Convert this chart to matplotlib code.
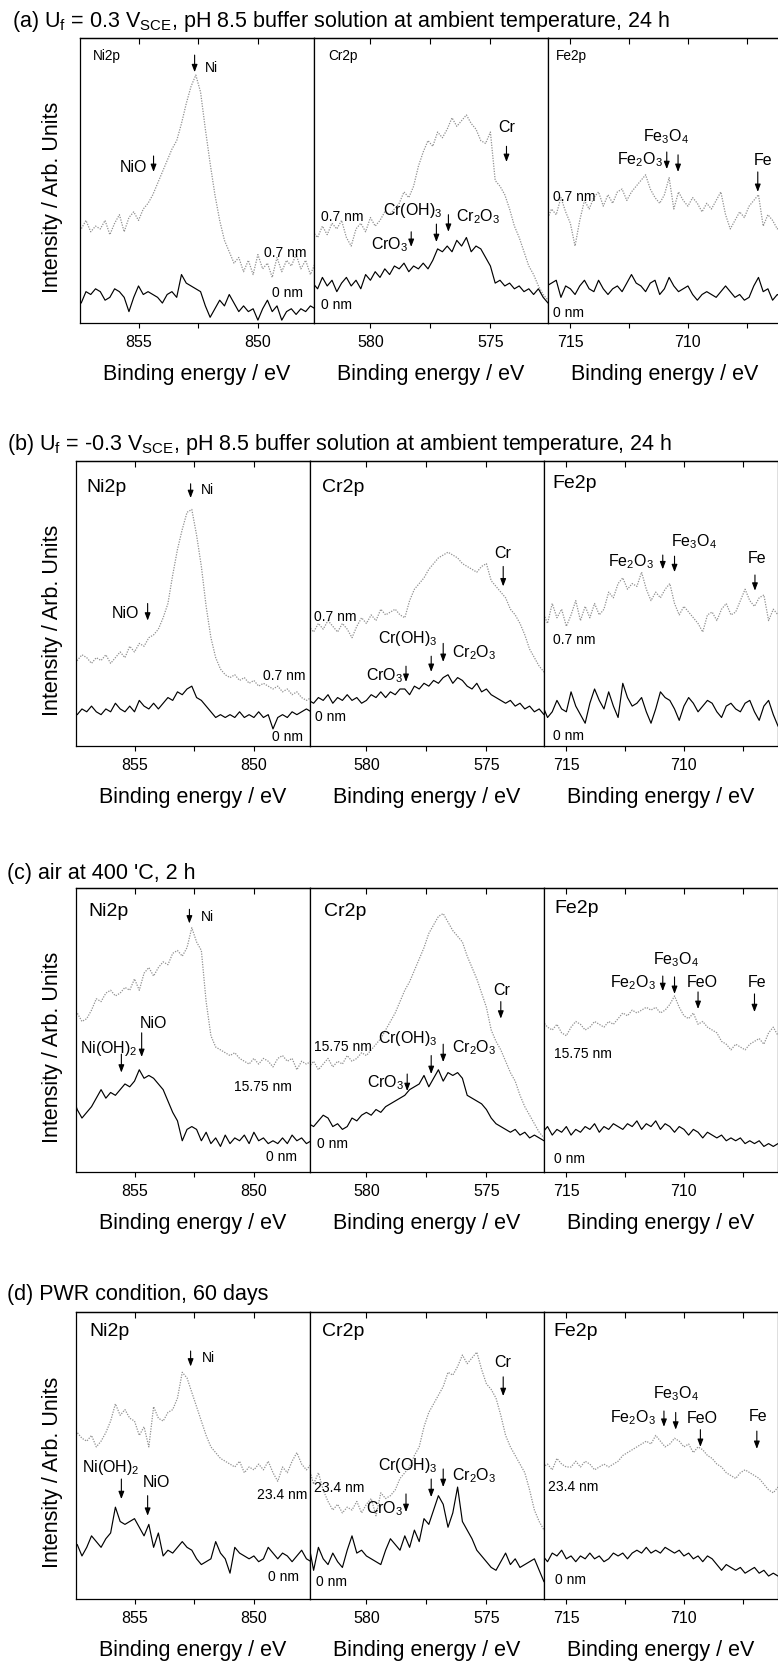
import numpy as np
import matplotlib
matplotlib.use("Agg")
import matplotlib.pyplot as plt
from matplotlib.ticker import MultipleLocator, FuncFormatter

plt.rcParams['font.family'] = ['Liberation Sans', 'DejaVu Sans']
plt.rcParams['mathtext.default'] = 'regular'

# ---------------- data (intensity in % of panel height, arbitrary units) ----------------
NI_E = np.linspace(857.6, 847.6, 51)
CR_E = np.linspace(582.4, 572.4, 51)
FE_E = np.linspace(716.0, 706.0, 51)

# (a) Uf = 0.3 V
NI_A_GRAY = [35, 33, 36, 32, 34, 33, 36, 31, 35, 38, 32, 37, 39, 36, 40, 42, 45, 49, 53, 57, 61, 64, 70, 77, 83, 87,
             81, 68, 56, 45, 36, 29, 25, 21, 23, 18, 22, 17, 24, 19, 21, 16, 23, 18, 22, 20, 24, 19, 22, 17, 21]
NI_A_BLACK = [9, 7, 11, 10, 12, 11, 8, 9, 12, 11, 9, 4, 9, 13, 10, 11, 10, 9, 7, 10, 11, 9, 17, 14, 13, 12,
              11, 6, 2, 5, 8, 6, 10, 7, 4, 6, 4, 5, 1, 5, 8, 4, 6, 1, 4, 5, 3, 5, 4, 6, 5]
CR_A_GRAY = [32, 30, 34, 31, 35, 33, 36, 30, 27, 33, 35, 32, 37, 34, 36, 39, 38, 40, 42, 46, 44, 48, 55, 60, 64, 62,
             67, 65, 68, 72, 69, 71, 73, 70, 68, 64, 63, 67, 50, 48, 45, 40, 34, 30, 25, 20, 17, 13, 10, 8, 7]
CR_A_BLACK = [14, 12, 16, 13, 15, 11, 14, 16, 13, 15, 12, 17, 15, 18, 16, 19, 17, 20, 19, 21, 18, 20, 19, 21, 19, 22,
              26, 25, 27, 25, 29, 27, 30, 25, 27, 26, 23, 20, 14, 15, 13, 14, 12, 13, 11, 12, 10, 12, 9, 7, 8]
FE_A_GRAY = [36, 40, 38, 44, 39, 35, 27, 36, 43, 40, 44, 46, 41, 45, 42, 46, 47, 43, 46, 48, 50, 52, 47, 44, 42, 45,
             51, 40, 46, 43, 41, 44, 42, 39, 42, 40, 43, 46, 38, 33, 36, 39, 37, 41, 43, 45, 34, 38, 36, 33, 35]
FE_A_BLACK = [13, 14, 15, 9, 13, 12, 10, 13, 15, 12, 11, 15, 12, 10, 12, 13, 11, 14, 17, 14, 13, 11, 14, 15, 10, 12,
              16, 13, 11, 12, 13, 10, 8, 10, 11, 10, 9, 11, 13, 11, 9, 10, 8, 9, 13, 16, 11, 12, 8, 10, 9]

# (b) Uf = -0.3 V
NI_B_GRAY = [31, 30, 32, 31, 29, 31, 30, 32, 29, 31, 33, 31, 35, 33, 36, 35, 38, 39, 41, 45, 50, 60, 69, 76, 82, 83,
             74, 63, 49, 38, 31, 27, 25, 24, 25, 23, 24, 22, 23, 21, 22, 21, 20, 21, 19, 20, 18, 19, 17, 16, 17]
NI_B_BLACK = [12, 11, 13, 12, 14, 12, 11, 13, 12, 15, 13, 12, 14, 12, 16, 14, 13, 15, 13, 15, 17, 16, 19, 18, 20, 21,
              17, 16, 14, 12, 10, 11, 10, 11, 10, 12, 10, 11, 10, 12, 10, 11, 6, 10, 11, 10, 12, 11, 12, 13, 12]
CR_B_GRAY = [42, 40, 43, 41, 44, 42, 40, 43, 41, 38, 42, 45, 43, 46, 44, 48, 46, 47, 48, 46, 45, 51, 55, 57, 59, 62,
             64, 66, 67, 68, 67, 66, 64, 63, 62, 61, 63, 64, 58, 56, 54, 52, 48, 46, 43, 39, 34, 31, 28, 26, 25]
CR_B_BLACK = [16, 15, 17, 16, 18, 15, 17, 16, 18, 16, 17, 15, 16, 18, 17, 19, 17, 19, 18, 20, 20, 18, 21, 20, 22, 21,
              23, 22, 24, 25, 22, 24, 23, 21, 20, 22, 19, 20, 18, 17, 16, 15, 16, 14, 15, 13, 14, 12, 13, 11, 12]
FE_B_GRAY = [47, 43, 50, 45, 48, 42, 46, 51, 44, 49, 45, 50, 46, 48, 54, 52, 57, 59, 55, 57, 56, 61, 55, 51, 54, 52,
             55, 57, 50, 46, 49, 47, 45, 43, 40, 46, 47, 44, 48, 50, 46, 47, 51, 55, 51, 49, 52, 53, 44, 48, 46]
FE_B_BLACK = [14, 10, 12, 16, 13, 12, 19, 14, 11, 8, 15, 20, 16, 13, 19, 14, 10, 22, 17, 14, 15, 17, 12, 8, 13, 19,
              17, 16, 13, 9, 14, 17, 15, 12, 14, 16, 15, 12, 10, 14, 15, 13, 12, 15, 16, 12, 9, 14, 16, 11, 7]

# (c) air at 400 'C
NI_C_GRAY = [58, 56, 53, 54, 57, 61, 60, 63, 64, 62, 63, 65, 64, 68, 64, 70, 72, 69, 72, 74, 73, 77, 78, 76, 79, 86,
             81, 78, 60, 48, 44, 43, 42, 41, 42, 40, 39, 38, 40, 38, 40, 39, 37, 40, 41, 39, 40, 36, 39, 38, 39]
NI_C_BLACK = [27, 22, 19, 21, 23, 26, 29, 26, 28, 27, 29, 31, 30, 32, 36, 33, 34, 33, 31, 29, 25, 21, 18, 11, 15, 16,
              15, 11, 14, 10, 12, 9, 13, 10, 12, 11, 13, 10, 14, 11, 12, 10, 11, 10, 12, 10, 13, 11, 12, 10, 11]
CR_C_GRAY = [37, 39, 36, 38, 40, 37, 39, 38, 41, 39, 40, 42, 41, 43, 45, 47, 50, 53, 56, 60, 64, 67, 71, 75, 79, 84,
             87, 90, 91, 88, 85, 83, 81, 76, 72, 68, 63, 58, 50, 46, 43, 39, 35, 32, 27, 23, 20, 17, 14, 12, 11]
CR_C_BLACK = [17, 16, 18, 20, 19, 16, 17, 15, 16, 19, 18, 20, 21, 20, 22, 21, 23, 24, 25, 26, 27, 29, 30, 31, 34, 30,
              33, 36, 32, 35, 34, 35, 33, 27, 26, 25, 24, 22, 19, 17, 16, 15, 14, 15, 13, 14, 12, 13, 12, 11, 12]
FE_C_GRAY = [53, 51, 50, 52, 49, 48, 51, 53, 52, 50, 51, 53, 52, 51, 53, 52, 54, 56, 55, 57, 56, 57, 58, 57, 58, 56,
             57, 59, 62, 58, 55, 54, 56, 52, 53, 51, 50, 49, 46, 45, 43, 45, 44, 43, 45, 46, 47, 45, 49, 51, 48]
FE_C_BLACK = [14, 16, 13, 15, 14, 16, 13, 15, 14, 16, 15, 17, 14, 16, 15, 17, 16, 15, 17, 16, 18, 15, 17, 16, 18, 15,
              17, 16, 14, 16, 15, 13, 15, 14, 12, 14, 13, 12, 13, 11, 12, 11, 12, 10, 11, 10, 11, 9, 10, 9, 10]

# (d) PWR condition, 60 days
NI_D_GRAY = [60, 58, 56, 55, 57, 53, 55, 58, 62, 68, 64, 66, 63, 62, 57, 60, 53, 67, 63, 62, 65, 66, 70, 79, 77, 72,
             67, 62, 57, 53, 51, 49, 48, 47, 46, 48, 44, 46, 45, 47, 45, 48, 44, 41, 46, 44, 48, 51, 47, 45, 47]
NI_D_BLACK = [17, 19, 15, 18, 22, 20, 18, 21, 23, 32, 27, 26, 27, 28, 25, 22, 26, 18, 23, 15, 17, 16, 18, 20, 18, 17,
              14, 12, 13, 14, 20, 16, 14, 9, 18, 16, 15, 14, 15, 13, 14, 18, 16, 14, 16, 15, 13, 15, 17, 14, 13]
CR_D_GRAY = [46, 40, 44, 38, 34, 31, 33, 30, 32, 31, 34, 30, 33, 35, 29, 37, 35, 36, 38, 42, 44, 46, 50, 53, 60, 65,
             68, 71, 74, 79, 78, 81, 85, 82, 84, 86, 80, 75, 73, 70, 64, 57, 53, 50, 47, 44, 38, 31, 27, 24, 22]
CR_D_BLACK = [19, 10, 18, 14, 12, 16, 13, 11, 17, 22, 16, 17, 15, 14, 13, 12, 17, 21, 19, 17, 22, 18, 24, 20, 28, 26,
              31, 36, 33, 25, 30, 39, 27, 24, 21, 17, 15, 13, 11, 10, 13, 16, 12, 14, 11, 12, 13, 14, 10, 6, 8]
FE_D_GRAY = [46, 47, 45, 49, 47, 46, 46, 48, 46, 48, 47, 45, 46, 47, 46, 47, 48, 50, 51, 52, 53, 54, 55, 54, 57, 55,
             53, 54, 56, 55, 53, 54, 51, 53, 52, 50, 49, 47, 46, 44, 43, 42, 44, 45, 44, 43, 42, 40, 38, 37, 39]
FE_D_BLACK = [15, 13, 16, 15, 17, 14, 15, 13, 15, 14, 16, 14, 15, 13, 14, 16, 15, 16, 14, 16, 17, 16, 18, 16, 17, 16,
              18, 17, 16, 17, 15, 16, 14, 15, 13, 15, 14, 12, 10, 12, 11, 10, 11, 9, 10, 11, 9, 10, 8, 9, 8]

TITLES = [r"(a) U$_f$ = 0.3 V$_{SCE}$, pH 8.5 buffer solution at ambient temperature, 24 h",
          r"(b) U$_f$ = -0.3 V$_{SCE}$, pH 8.5 buffer solution at ambient temperature, 24 h",
          "(c) air at 400 'C, 2 h",
          "(d) PWR condition, 60 days"]
ELEMENTS = ["Ni2p", "Cr2p", "Fe2p"]
XLABEL = "Binding energy / eV"
YLABEL = "Intensity / Arb. Units"

DATA = [
    [(NI_A_GRAY, NI_A_BLACK), (CR_A_GRAY, CR_A_BLACK), (FE_A_GRAY, FE_A_BLACK)],
    [(NI_B_GRAY, NI_B_BLACK), (CR_B_GRAY, CR_B_BLACK), (FE_B_GRAY, FE_B_BLACK)],
    [(NI_C_GRAY, NI_C_BLACK), (CR_C_GRAY, CR_C_BLACK), (FE_C_GRAY, FE_C_BLACK)],
    [(NI_D_GRAY, NI_D_BLACK), (CR_D_GRAY, CR_D_BLACK), (FE_D_GRAY, FE_D_BLACK)],
]
ENERGIES = [NI_E, CR_E, FE_E]
XLIMS = [(857.45, 847.65), (582.35, 572.6), (715.95, 706.0)]

# label annotations per row and panel: (text, x, y, ha)
LABELS = [
    [[("Ni", 852.2, 90, 'left'), ("NiO", 854.62, 55, 'right'), ("0.7 nm", 847.98, 25, 'right'), ("0 nm", 848.1, 11, 'right')],
     [("0.7 nm", 582.04, 37.5, 'left'), ("0 nm", 582.04, 6.7, 'left'), ("CrO$_3$", 578.42, 28, 'right'),
      ("Cr(OH)$_3$", 578.23, 40, 'center'), ("Cr$_2$O$_3$", 576.42, 37.5, 'left'), ("Cr", 574.33, 69, 'center')],
     [("0.7 nm", 715.72, 44.6, 'left'), ("0 nm", 715.72, 3.8, 'left'), ("Fe$_2$O$_3$", 711.05, 57.5, 'right'),
      ("Fe$_3$O$_4$", 710.93, 65.6, 'center'), ("Fe", 706.82, 57.5, 'center')]],
    [[("Ni", 852.22, 90, 'left'), ("NiO", 854.79, 47, 'right'), ("0.7 nm", 847.82, 25, 'right'), ("0 nm", 847.95, 3.5, 'right')],
     [("0.7 nm", 582.2, 45.6, 'left'), ("0 nm", 582.16, 10.5, 'left'), ("CrO$_3$", 578.47, 25, 'right'),
      ("Cr(OH)$_3$", 578.28, 38, 'center'), ("Cr$_2$O$_3$", 576.44, 33, 'left'), ("Cr", 574.32, 68, 'center')],
     [("0.7 nm", 715.57, 37.5, 'left'), ("0 nm", 715.57, 4, 'left'), ("Fe$_2$O$_3$", 711.28, 65, 'right'),
      ("Fe$_3$O$_4$", 709.57, 72, 'center'), ("Fe", 706.9, 66, 'center')]],
    [[("Ni", 852.2, 90, 'left'), ("15.75 nm", 848.42, 30.3, 'right'), ("0 nm", 848.2, 5.6, 'right'),
      ("Ni(OH)$_2$", 856.08, 44, 'center'), ("NiO", 854.2, 52.8, 'center')],
     [("15.75 nm", 582.17, 44.4, 'left'), ("0 nm", 582.04, 10.2, 'left'), ("CrO$_3$", 578.42, 31.7, 'right'),
      ("Cr(OH)$_3$", 578.27, 47.5, 'center'), ("Cr$_2$O$_3$", 576.42, 44, 'left'), ("Cr", 574.37, 64.4, 'center')],
     [("15.75 nm", 715.53, 42, 'left'), ("0 nm", 715.53, 5, 'left'), ("Fe$_2$O$_3$", 711.19, 67, 'right'),
      ("Fe$_3$O$_4$", 710.34, 75, 'center'), ("FeO", 709.23, 67, 'center'), ("Fe", 706.9, 67, 'center')]],
    [[("Ni", 852.18, 84.3, 'left'), ("23.4 nm", 847.77, 36.6, 'right'), ("0 nm", 848.1, 8, 'right'),
      ("Ni(OH)$_2$", 855.99, 46.3, 'center'), ("NiO", 854.08, 41, 'center')],
     [("23.4 nm", 582.2, 39, 'left'), ("0 nm", 582.08, 6.3, 'left'), ("CrO$_3$", 578.47, 32, 'right'),
      ("Cr(OH)$_3$", 578.28, 47, 'center'), ("Cr$_2$O$_3$", 576.44, 43.5, 'left'), ("Cr", 574.34, 82.6, 'center')],
     [("23.4 nm", 715.77, 39.4, 'left'), ("0 nm", 715.5, 7, 'left'), ("Fe$_2$O$_3$", 711.2, 63.4, 'right'),
      ("Fe$_3$O$_4$", 710.34, 72, 'center'), ("FeO", 709.23, 63.4, 'center'), ("Fe", 706.84, 63.8, 'center')]],
]
# arrows per row and panel: (x, y_start, y_end)
ARROWS = [
    [[(852.65, 94, 88), (854.37, 58.6, 53)],
     [(578.3, 32, 26.7), (577.25, 34.7, 28.4), (576.75, 38, 32), (574.33, 62, 56.5)],
     [(710.9, 60, 54), (710.42, 59, 53), (707.03, 53, 46)]],
    [[(852.65, 92, 87), (854.45, 50, 44)],
     [(578.35, 28, 22.5), (577.3, 31.5, 26), (576.8, 36, 29.5), (574.3, 63, 56)],
     [(710.9, 67, 62), (710.4, 66.6, 61), (706.98, 60, 54.5)]],
    [[(852.7, 92.5, 87.5), (855.55, 41.5, 35), (854.7, 49, 40.5)],
     [(578.3, 34.5, 28.5), (577.3, 41, 34.5), (576.8, 45, 38.7), (574.4, 60, 54)],
     [(710.9, 69, 63.7), (710.4, 68.7, 62.7), (709.4, 63.4, 57.4), (707.0, 62.7, 56.3)]],
    [[(852.65, 86.4, 81), (855.55, 41.8, 34.8), (854.45, 36, 29)],
     [(578.35, 36.6, 30.3), (577.3, 41.8, 35.5), (576.8, 45.3, 39), (574.3, 77.4, 70.7)],
     [(710.85, 65.5, 60), (710.35, 65, 59), (709.3, 59, 53), (706.9, 58.5, 52.3)]],
]
ELEM_POS = [
    [(856.9, 94), (581.75, 94), (715.6, 94)],
    [(857.0, 91), (581.86, 91), (715.6, 92.6)],
    [(856.94, 92), (581.75, 92), (715.53, 93)],
    [(856.9, 93.4), (581.86, 93.4), (715.56, 93.4)],
]
ELEM_FS = [9.8, 14, 14, 14]

# ---------------- layout (pixels) ----------------
W, H = 778, 1665
ROWS = [(39, 324, 80), (462, 747, 76), (889, 1173, 76), (1313, 1600, 76)]
TITLE_POS = [(12, 27), (7, 450), (7, 879), (7, 1300)]
PW = 234

fig = plt.figure(figsize=(W / 100, H / 100), dpi=100)

fmt = FuncFormatter(lambda v, p: f"{v:.0f}" if abs(v / 5 - round(v / 5)) < 1e-6 else "")

for r, (top, bot, left) in enumerate(ROWS):
    for c in range(3):
        x0 = left + c * PW
        ax = fig.add_axes([x0 / W, 1 - bot / H, PW / W, (bot - top) / H])
        gray, black = DATA[r][c]
        E = ENERGIES[c]
        ax.plot(E, gray, color='#909090', lw=0.9, ls=(0, (1, 1.1)))
        ax.plot(E, black, color='black', lw=0.85)
        ax.set_xlim(*XLIMS[c])
        ax.set_ylim(0, 100)
        ax.set_yticks([])
        ax.xaxis.set_major_locator(MultipleLocator(2.5))
        ax.xaxis.set_major_formatter(fmt)
        ax.tick_params(axis='x', direction='out', length=3.5, width=0.8, labelsize=11.5, pad=4.6,
                       top=False, bottom=True)
        for s in ax.spines.values():
            s.set_linewidth(0.9)
        sec = ax.secondary_xaxis('top')
        sec.xaxis.set_major_locator(MultipleLocator(2.5))
        sec.tick_params(direction='in', length=4, width=0.8, labeltop=False)
        sec.spines['top'].set_linewidth(0.9)

        ex, ey = ELEM_POS[r][c]
        ax.text(ex, ey, ELEMENTS[c], ha='left', va='center', fontsize=ELEM_FS[r])
        for (t, tx, ty, ha) in LABELS[r][c]:
            fs = 11.5
            if t == "Ni":
                fs = 10
            if 'nm' in t:
                fs = 10
            ax.text(tx, ty, t, ha=ha, va='center', fontsize=fs)
        for (axx, y0, y1) in ARROWS[r][c]:
            ax.annotate('', xy=(axx, y1), xytext=(axx, y0),
                        arrowprops=dict(arrowstyle='-|>,head_length=0.45,head_width=0.17',
                                        color='black', lw=0.8, shrinkA=0, shrinkB=0))
        fig.text((x0 + PW / 2) / W, 1 - (bot + 56) / H, XLABEL, ha='center', va='baseline', fontsize=15.5)

    tx, ty = TITLE_POS[r]
    fig.text(tx / W, 1 - ty / H, TITLES[r], ha='left', va='baseline', fontsize=15.5)
    fig.text(53 / W, 1 - ((top + bot) / 2 + 16) / H, YLABEL, rotation=90, ha='center', va='center', fontsize=15.5)

fig.savefig("out.png", dpi=100)
